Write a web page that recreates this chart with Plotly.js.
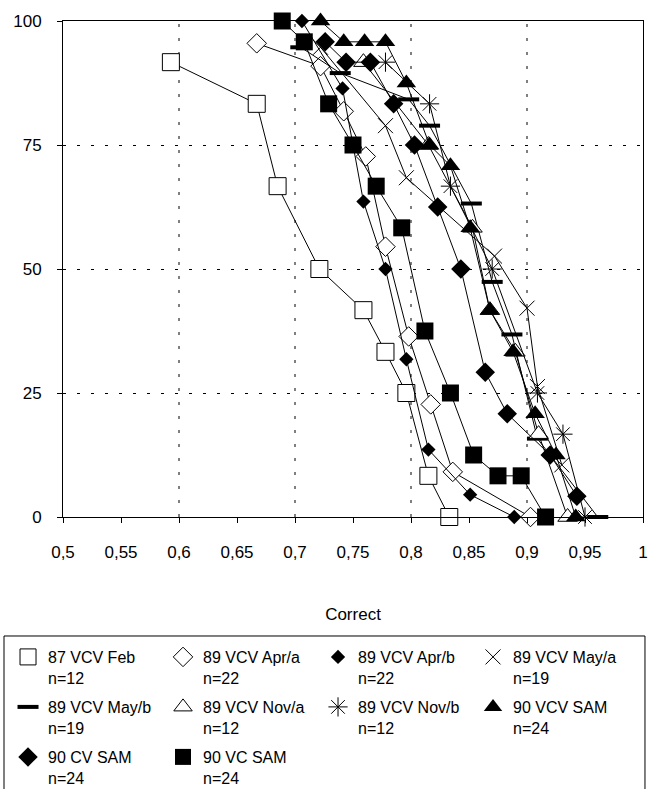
<!DOCTYPE html>
<html>
<head>
<meta charset="utf-8">
<script src="https://cdn.plot.ly/plotly-3.0.1.min.js"></script>
<style>html,body{margin:0;padding:0;background:#fff;overflow:hidden;}#chart{width:648px;height:789px;}</style>
</head>
<body>
<div id="chart"></div>
<script>
// Series names and sample sizes
const seriesNames = ["87 VCV Feb","89 VCV Apr/a","89 VCV Apr/b","89 VCV May/a","89 VCV May/b","89 VCV Nov/a","89 VCV Nov/b","90 VCV SAM","90 CV SAM","90 VC SAM"];
const seriesN = [12,22,22,19,19,12,12,24,24,24];

// Data (x = Correct, y = cumulative %)
const feb87X = [0.593,0.667,0.685,0.721,0.759,0.778,0.796,0.815,0.833];
const feb87Y = [91.7,83.3,66.7,50,41.7,33.3,25,8.3,0];
const aprA89X = [0.667,0.722,0.742,0.761,0.778,0.798,0.817,0.836,0.903];
const aprA89Y = [95.5,90.9,81.8,72.7,54.5,36.4,22.7,9.1,0];
const aprB89X = [0.706,0.741,0.759,0.778,0.796,0.815,0.851,0.889];
const aprB89Y = [100,86.4,63.6,50,31.8,13.6,4.5,0];
const mayA89X = [0.722,0.778,0.796,0.872,0.9,0.909,0.93];
const mayA89Y = [94.7,78.9,68.4,52.6,42.1,26.3,10.5];
const mayB89X = [0.705,0.739,0.798,0.816,0.852,0.870,0.887,0.909,0.961];
const mayB89Y = [94.7,89.5,84.2,78.9,63.2,47.4,36.8,15.8,0];
const novA89X = [0.759,0.815,0.853,0.868,0.89,0.91,0.935];
const novA89Y = [91.7,75,58.3,41.7,33.3,16.7,0];
const novB89X = [0.778,0.816,0.834,0.870,0.909,0.931,0.95];
const novB89Y = [91.7,83.3,66.7,50,25,16.7,0];
const vcvSam90X = [0.722,0.742,0.760,0.778,0.796,0.816,0.834,0.851,0.868,0.888,0.907,0.925,0.942];
const vcvSam90Y = [100,95.8,95.8,95.8,87.5,75,70.8,58.3,41.7,33.3,20.8,12.5,0];
const cvSam90X = [0.726,0.744,0.765,0.785,0.803,0.823,0.843,0.864,0.883,0.92,0.943];
const cvSam90Y = [95.8,91.7,91.7,83.3,75,62.5,50,29.2,20.8,12.5,4.2];
const vcSam90X = [0.689,0.708,0.729,0.750,0.770,0.792,0.812,0.834,0.854,0.875,0.895,0.916];
const vcSam90Y = [100,95.8,83.3,75,66.7,58.3,37.5,25,12.5,8.3,8.3,0];

const xTickVals = [0.5,0.55,0.6,0.65,0.7,0.75,0.8,0.85,0.9,0.95,1];
const yTickVals = [0,25,50,75,100];
const xGridVals = [0.6,0.7,0.8,0.9];

const allX = [feb87X,aprA89X,aprB89X,mayA89X,mayB89X,novA89X,novB89X,vcvSam90X,cvSam90X,vcSam90X];
const allY = [feb87Y,aprA89Y,aprB89Y,mayA89Y,mayB89Y,novA89Y,novB89Y,vcvSam90Y,cvSam90Y,vcSam90Y];

const styles = [
  {symbol:'square', size:17, color:'#fff', lw:1},
  {symbol:'diamond', size:15, color:'#fff', lw:1},
  {symbol:'diamond', size:11, color:'#000', lw:0},
  {symbol:'x-thin-open', size:15, color:'#000', lw:1},
  {symbol:'line-ew-open', size:15, color:'#000', lw:4},
  {symbol:'triangle-up', size:17, color:'#fff', lw:1},
  {symbol:'asterisk-open', size:16, color:'#000', lw:1},
  {symbol:'triangle-up', size:17, color:'#000', lw:0},
  {symbol:'diamond', size:15, color:'#000', lw:0},
  {symbol:'square', size:17, color:'#000', lw:0}
];
const legendIds = ['legend','legend2','legend3'];

const traces = [];
for (let i = 0; i < seriesNames.length; i++) {
  const s = styles[i];
  traces.push({
    x: allX[i], y: allY[i], type:'scatter', mode:'lines+markers',
    showlegend:false, cliponaxis:false,
    line:{color:'#000', width:1},
    marker:{symbol:s.symbol, size:s.size, color:s.color, line:{color:'#000', width:s.lw}}
  });
}
for (let i = 0; i < seriesNames.length; i++) {
  const s = styles[i];
  traces.push({
    x:[null], y:[null], type:'scatter', mode:'markers',
    legend: legendIds[Math.floor(i/4)],
    name: seriesNames[i] + '<br>n=' + seriesN[i],
    marker:{symbol:s.symbol, size:s.size, color:s.color, line:{color:'#000', width:s.lw}}
  });
}

const shapes = xGridVals.map(v => ({
  type:'line', xref:'x', yref:'paper', x0:v, x1:v, y0:0, y1:1,
  line:{color:'#000', width:1, dash:'3px,11px'}, layer:'below'
}));
// legend frame
shapes.push({type:'rect', xref:'paper', yref:'paper', x0:-0.1017, x1:1.0034, y0:-0.2399, y1:-0.552,
  line:{color:'#000', width:1}, fillcolor:'rgba(0,0,0,0)', layer:'above'});

function legendRow(yTop){
  return {
    orientation:'h', x:-0.0948, xanchor:'left', y:yTop, yanchor:'top',
    borderwidth:0, bgcolor:'rgba(0,0,0,0)',
    font:{size:16}, entrywidth:110, valign:'top', traceorder:'normal'
  };
}

const layout = {
  width:648, height:789,
  margin:{l:63, r:5, t:21, b:272, autoexpand:false},
  paper_bgcolor:'#fff', plot_bgcolor:'#fff',
  separators:', ',
  font:{family:'Liberation Sans, Arial, sans-serif', color:'#000', size:17},
  showlegend:true,
  xaxis:{
    range:[0.5,1], tickvals:xTickVals, ticks:'outside', ticklen:5, tickcolor:'#000',
    showgrid:false, zeroline:false, showline:true, linecolor:'#000', linewidth:1, mirror:true,
    tickfont:{size:17}, ticklabelstandoff:15, ticklabeloverflow:'allow', automargin:false,
    title:{text:'Correct', font:{size:17}, standoff:46}
  },
  yaxis:{
    range:[0,100], tickvals:yTickVals, ticks:'outside', ticklen:5, tickcolor:'#000',
    showgrid:true, gridcolor:'#000', griddash:'3px,11px', gridwidth:1,
    zeroline:false, showline:true, linecolor:'#000', linewidth:1, mirror:true,
    tickfont:{size:17}, ticklabelstandoff:12, automargin:false
  },
  legend: legendRow(-0.248),
  legend2: legendRow(-0.3488),
  legend3: legendRow(-0.4496),
  shapes:shapes
};

Plotly.newPlot('chart', traces, layout, {staticPlot:true, displayModeBar:false});
</script>
</body>
</html>
